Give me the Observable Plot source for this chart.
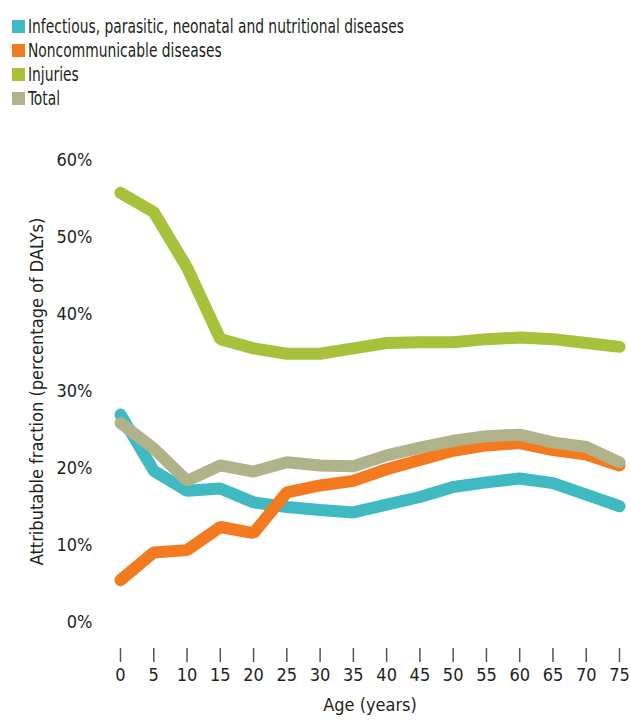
<!DOCTYPE html>
<html>
<head>
<meta charset="utf-8">
<script src="https://cdn.jsdelivr.net/npm/d3@7"></script>
<script src="https://cdn.jsdelivr.net/npm/@observablehq/plot@0.6"></script>
<style>
  html, body { margin: 0; padding: 0; background: #fff; }
  body { width: 631px; font-family: "Liberation Sans Narrow", "DejaVu Sans Condensed", "Roboto", sans-serif; color: #231f20; }
  #legend { height: 120px; box-sizing: border-box; padding: 14px 0 0 12px; }
  .item { display: flex; align-items: center; height: 24px; font-size: 20px; line-height: 24px; white-space: nowrap; }
  .sw { width: 13px; height: 13px; margin-right: 3px; flex: none; }
  .lab { display: inline-block; transform: scaleX(0.77); transform-origin: left center; }
  svg { display: block; }
</style>
</head>
<body>
<div id="legend"></div>
<div id="chart"></div>
<script>
const ages = [0, 5, 10, 15, 20, 25, 30, 35, 40, 45, 50, 55, 60, 65, 70, 75];
const seriesNames = [
  "Infectious, parasitic, neonatal and nutritional diseases",
  "Noncommunicable diseases",
  "Injuries",
  "Total"
];
const seriesColors = ["#3fbac2", "#f47a20", "#a7c13a", "#b0b38a"];
const infectious = [27.0, 19.7, 17.1, 17.4, 15.6, 15.0, 14.6, 14.3, 15.3, 16.3, 17.6, 18.2, 18.7, 18.1, 16.6, 15.1];
const noncommunicable = [5.5, 9.1, 9.4, 12.4, 11.6, 16.9, 17.8, 18.4, 19.9, 21.1, 22.3, 23.0, 23.3, 22.4, 21.8, 20.4];
const injuries = [55.8, 53.3, 46.1, 36.8, 35.6, 34.9, 34.9, 35.6, 36.3, 36.4, 36.4, 36.8, 37.0, 36.8, 36.3, 35.8];
const total = [25.9, 22.6, 18.4, 20.4, 19.6, 20.8, 20.4, 20.3, 21.7, 22.7, 23.6, 24.2, 24.4, 23.4, 22.8, 20.8];
const yTicks = [0, 10, 20, 30, 40, 50, 60];
const xLabel = "Age (years)";
const yLabel = "Attributable fraction (percentage of DALYs)";

const seriesValues = [infectious, noncommunicable, injuries, total];
const rows = [];
seriesNames.forEach((name, i) => {
  ages.forEach((a, j) => rows.push({series: name, age: a, value: seriesValues[i][j]}));
});

const legend = document.getElementById("legend");
seriesNames.forEach((name, i) => {
  const d = document.createElement("div");
  d.className = "item";
  d.innerHTML = `<span class="sw" style="background:${seriesColors[i]}"></span><span class="lab">${name}</span>`;
  legend.appendChild(d);
});

const chart = Plot.plot({
  width: 631,
  height: 600,
  marginTop: 40,
  marginBottom: 98,
  marginLeft: 120,
  marginRight: 12,
  style: {fontFamily: '"Liberation Sans Narrow", "DejaVu Sans Condensed", sans-serif', fontSize: "18px", color: "#231f20", background: "#fff"},
  x: {domain: [0, 75], ticks: ages},
  y: {domain: [0, 60]},
  color: {domain: seriesNames, range: seriesColors},
  marks: [
    Plot.axisY({ticks: yTicks, tickSize: 0, tickPadding: 28, tickFormat: d => d + "%", label: yLabel, labelAnchor: "center", labelArrow: "none", labelOffset: 90, fontSize: 18}),
    Plot.axisX({ticks: ages, tickSize: 14, tickPadding: 6, dy: 26, stroke: "#555", strokeWidth: 1.5, label: null, fontSize: 18}),
    Plot.text([xLabel], {frameAnchor: "bottom", dy: 88, text: d => d, fontSize: 18, fill: "#231f20"}),
    Plot.line(rows, {x: "age", y: "value", z: "series", stroke: "series", strokeWidth: 12, strokeLinecap: "round", strokeLinejoin: "miter"})
  ]
});
document.getElementById("chart").appendChild(chart);
</script>
</body>
</html>
